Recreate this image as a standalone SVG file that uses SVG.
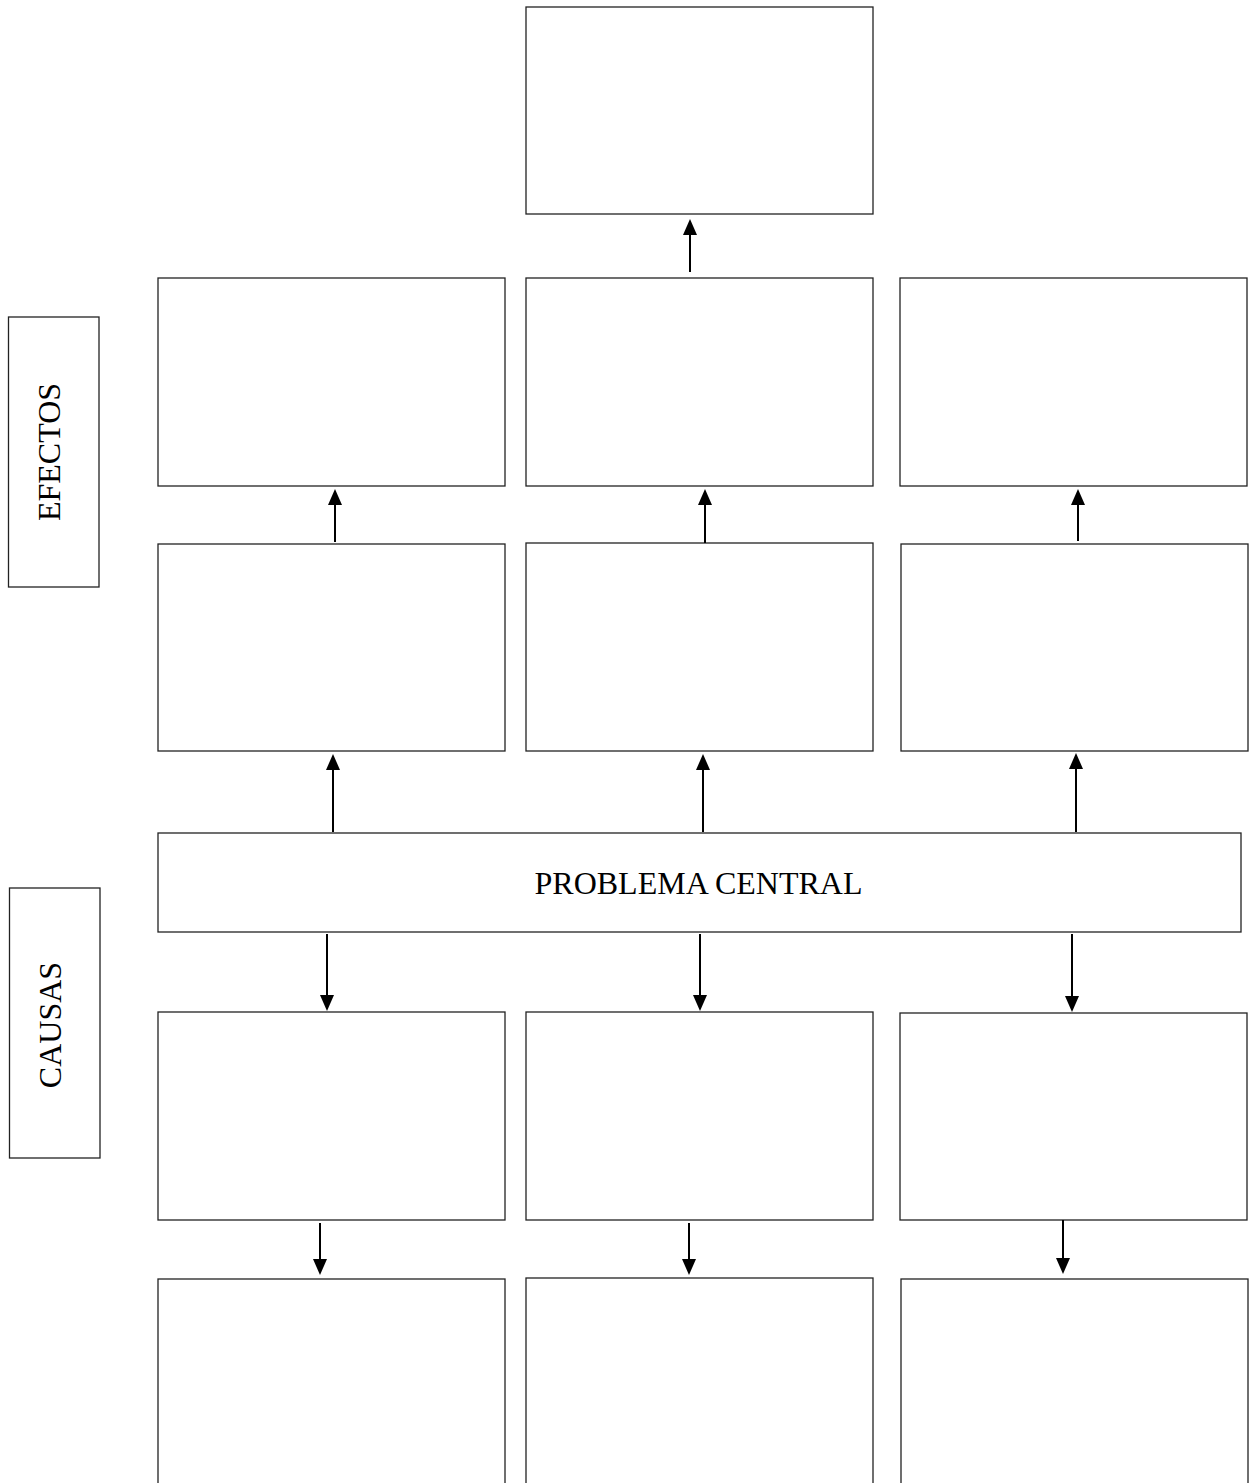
<svg xmlns="http://www.w3.org/2000/svg" width="1249" height="1483" viewBox="0 0 1249 1483">
<style>
.box{fill:#fff;stroke:#222;stroke-width:1.3}
.lbl{font-family:"Liberation Serif","Times New Roman",serif;font-size:32px;fill:#000}
.conn line{stroke:#000;stroke-width:2;marker-end:url(#ah)}
</style>
<defs>
<marker id="ah" markerUnits="userSpaceOnUse" markerWidth="16" markerHeight="14" refX="12" refY="7" orient="auto">
<path d="M0,0 L16,7 L0,14 z" fill="#000"/>
</marker>
</defs>
<rect width="1249" height="1483" fill="#fff"/>
<g id="lbl-efectos"><rect class="box" x="8.5" y="317" width="90.5" height="270"/><text class="lbl" text-anchor="middle" transform="translate(60,452) rotate(-90)">EFECTOS</text></g>
<g id="lbl-causas"><rect class="box" x="9.5" y="888" width="90.5" height="270"/><text class="lbl" text-anchor="middle" transform="translate(61,1025) rotate(-90)">CAUSAS</text></g>
<g id="top"><rect class="box" x="526" y="7" width="347" height="207"/></g>
<g id="e1-left"><rect class="box" x="158" y="278" width="347" height="208"/></g>
<g id="e1-mid"><rect class="box" x="526" y="278" width="347" height="208"/></g>
<g id="e1-right"><rect class="box" x="900" y="278" width="347" height="208"/></g>
<g id="e2-left"><rect class="box" x="158" y="544" width="347" height="207"/></g>
<g id="e2-mid"><rect class="box" x="526" y="543" width="347" height="208"/></g>
<g id="e2-right"><rect class="box" x="901" y="544" width="347" height="207"/></g>
<g id="central"><rect class="box" x="158" y="833" width="1083" height="99"/><text class="lbl" x="698.5" y="894" text-anchor="middle">PROBLEMA CENTRAL</text></g>
<g id="c1-left"><rect class="box" x="158" y="1012" width="347" height="208"/></g>
<g id="c1-mid"><rect class="box" x="526" y="1012" width="347" height="208"/></g>
<g id="c1-right"><rect class="box" x="900" y="1013" width="347" height="207"/></g>
<g id="c2-left"><rect class="box" x="158" y="1279" width="347" height="212"/></g>
<g id="c2-mid"><rect class="box" x="526" y="1278" width="347" height="213"/></g>
<g id="c2-right"><rect class="box" x="901" y="1279" width="347" height="212"/></g>
<g class="conn" id="connectors">
<line x1="690" y1="272" x2="690" y2="223"/>
<line x1="335" y1="542" x2="335" y2="493"/>
<line x1="705" y1="543" x2="705" y2="493"/>
<line x1="1078" y1="541" x2="1078" y2="493"/>
<line x1="333" y1="832" x2="333" y2="758"/>
<line x1="703" y1="832" x2="703" y2="758"/>
<line x1="1076" y1="832" x2="1076" y2="757"/>
<line x1="327" y1="934" x2="327" y2="1007"/>
<line x1="700" y1="934" x2="700" y2="1007"/>
<line x1="1072" y1="934" x2="1072" y2="1008"/>
<line x1="320" y1="1223" x2="320" y2="1271"/>
<line x1="689" y1="1223" x2="689" y2="1271"/>
<line x1="1063" y1="1220" x2="1063" y2="1270"/>
</g>
</svg>
